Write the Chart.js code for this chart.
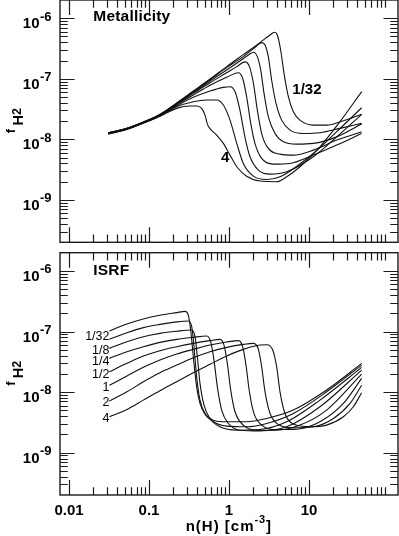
<!DOCTYPE html>
<html>
<head>
<meta charset="utf-8">
<script src="https://cdn.jsdelivr.net/npm/chart.js@4.4.1/dist/chart.umd.min.js"></script>
<style>
  html, body { margin: 0; padding: 0; background: #fff; }
  #wrap { position: relative; width: 399px; height: 536px; overflow: hidden; }
  #met { position: absolute; left: 0; top: 0; }
  #isrf { position: absolute; left: 0; top: 250px; }
</style>
</head>
<body>
<div id="wrap">
  <canvas id="met" width="399" height="250"></canvas>
  <canvas id="isrf" width="399" height="286"></canvas>
</div>
<script>
// axis ranges and tick labels
const nRange = [0.00772, 129.5];
const fRange = [2e-10, 2e-6];
const xMajor = [0.01, 0.1, 1, 10];
const xMajorText = ['0.01', '0.1', '1', '10'];
const yMajor = [1e-9, 1e-8, 1e-7, 1e-6];
const yMajorExp = ['-9', '-8', '-7', '-6'];

// --- top panel: metallicity ---
const metLabels = ['1/32', '1/16', '1/8', '1/4', '1/2', '1', '2', '4'];
const met_1_32_n = [0.031, 0.053, 0.085, 0.137, 0.222, 0.358, 0.579, 0.935, 1.51, 2.44, 3.26, 3.69, 4.02, 4.42, 4.87, 5.52, 6.37, 7.72, 11.3, 16.6, 26.9, 45.5];
const met_1_32_f = [1.29e-8, 1.52e-8, 1.93e-8, 2.59e-8, 3.98e-8, 6.28e-8, 9.92e-8, 1.59e-7, 2.51e-7, 3.96e-7, 5.30e-7, 5.86e-7, 5.30e-7, 2.99e-7, 1.23e-7, 5.07e-8, 2.86e-8, 2.08e-8, 1.72e-8, 1.72e-8, 2.03e-8, 2.59e-8];
const met_1_16_n = [0.031, 0.053, 0.085, 0.137, 0.222, 0.358, 0.579, 0.935, 1.51, 2.22, 2.56, 2.82, 3.10, 3.41, 3.87, 4.55, 5.79, 8.50, 13.7, 24.4, 45.5];
const met_1_16_f = [1.27e-8, 1.52e-8, 1.93e-8, 2.55e-8, 3.93e-8, 6.13e-8, 9.67e-8, 1.53e-7, 2.32e-7, 3.48e-7, 3.96e-7, 3.62e-7, 2.32e-7, 9.55e-8, 3.93e-8, 2.08e-8, 1.42e-8, 1.25e-8, 1.29e-8, 1.52e-8, 1.84e-8];
const met_1_8_n = [0.031, 0.053, 0.085, 0.137, 0.222, 0.358, 0.579, 0.935, 1.37, 1.75, 2.02, 2.26, 2.49, 2.74, 3.10, 3.76, 4.78, 7.01, 11.3, 22.2, 45.5];
const met_1_8_f = [1.27e-8, 1.52e-8, 1.91e-8, 2.52e-8, 3.88e-8, 5.97e-8, 9.20e-8, 1.40e-7, 1.97e-7, 2.47e-7, 2.74e-7, 2.32e-7, 1.40e-7, 5.75e-8, 2.37e-8, 1.25e-8, 9.14e-9, 8.36e-9, 8.58e-9, 1.10e-8, 1.79e-8];
const met_1_4_n = [0.031, 0.053, 0.085, 0.137, 0.222, 0.358, 0.579, 0.935, 1.25, 1.58, 1.80, 2.02, 2.26, 2.56, 3.10, 4.34, 6.37, 11.3, 22.2, 45.5];
const met_1_4_f = [1.25e-8, 1.50e-8, 1.91e-8, 2.52e-8, 3.83e-8, 5.75e-8, 8.63e-8, 1.26e-7, 1.59e-7, 1.90e-7, 1.59e-7, 8.42e-8, 3.05e-8, 1.25e-8, 7.09e-9, 5.71e-9, 5.50e-9, 6.65e-9, 9.74e-9, 1.34e-8];
const met_1_2_n = [0.031, 0.053, 0.085, 0.137, 0.222, 0.358, 0.579, 0.935, 1.31, 1.48, 1.66, 1.87, 2.11, 2.56, 3.58, 5.79, 11.3, 22.2, 45.5];
const met_1_2_f = [1.25e-8, 1.50e-8, 1.88e-8, 2.49e-8, 3.74e-8, 5.40e-8, 7.80e-8, 1.06e-7, 1.26e-7, 1.02e-7, 5.07e-8, 1.84e-8, 8.58e-9, 4.85e-9, 3.91e-9, 4.01e-9, 5.50e-9, 8.05e-9, 1.25e-8];
const met_1_n = [0.031, 0.053, 0.085, 0.137, 0.222, 0.358, 0.579, 0.850, 1.03, 1.19, 1.37, 1.58, 1.83, 2.33, 3.26, 5.26, 11.3, 22.2, 45.5];
const met_1_f = [1.24e-8, 1.48e-8, 1.88e-8, 2.46e-8, 3.60e-8, 4.94e-8, 6.28e-8, 7.23e-8, 7.41e-8, 6.13e-8, 3.05e-8, 1.10e-8, 5.16e-9, 3.11e-9, 2.67e-9, 2.92e-9, 5.16e-9, 1.10e-8, 2.59e-8];
const met_2_n = [0.031, 0.053, 0.085, 0.137, 0.222, 0.358, 0.526, 0.701, 0.850, 1.03, 1.25, 1.51, 2.02, 2.96, 4.34, 11.3, 22.2, 45.5];
const met_2_f = [1.24e-8, 1.48e-8, 1.86e-8, 2.43e-8, 3.46e-8, 4.19e-8, 4.46e-8, 4.46e-8, 3.69e-8, 2.08e-8, 8.58e-9, 4.01e-9, 2.47e-9, 2.18e-9, 2.41e-9, 5.86e-9, 1.34e-8, 3.33e-8];
const met_4_n = [0.031, 0.053, 0.085, 0.137, 0.222, 0.326, 0.394, 0.455, 0.501, 0.536, 0.590, 0.701, 0.850, 1.03, 1.25, 1.66, 2.44, 3.94, 5.26, 7.72, 13.7, 24.4, 45.5];
const met_4_f = [1.22e-8, 1.46e-8, 1.84e-8, 2.40e-8, 3.25e-8, 3.55e-8, 3.55e-8, 3.25e-8, 2.52e-8, 1.79e-8, 1.46e-8, 1.18e-8, 8.58e-9, 5.50e-9, 3.53e-9, 2.47e-9, 2.05e-9, 2.00e-9, 2.41e-9, 3.53e-9, 7.55e-9, 1.96e-8, 6.13e-8];

// --- bottom panel: ISRF ---
const isrfLabels = ['1/32', '1/16', '1/8', '1/4', '1/2', '1', '2', '4'];
const isrf_1_32_n = [0.032, 0.053, 0.085, 0.137, 0.222, 0.282, 0.310, 0.332, 0.358, 0.394, 0.434, 0.501, 0.637, 0.935, 1.66, 2.96, 6.37, 16.6, 45.5];
const isrf_1_32_f = [1.02e-7, 1.33e-7, 1.61e-7, 1.85e-7, 2.05e-7, 2.15e-7, 1.87e-7, 1.06e-7, 3.84e-8, 1.22e-8, 6.50e-9, 4.33e-9, 3.44e-9, 3.23e-9, 3.23e-9, 3.67e-9, 5.04e-9, 1.08e-8, 2.98e-8];
const isrf_1_16_n = [0.032, 0.053, 0.085, 0.137, 0.222, 0.310, 0.342, 0.365, 0.394, 0.434, 0.501, 0.637, 0.935, 1.66, 2.96, 6.37, 16.6, 45.5];
const isrf_1_16_f = [7.42e-8, 9.56e-8, 1.16e-7, 1.31e-7, 1.44e-7, 1.49e-7, 1.20e-7, 5.61e-8, 1.79e-8, 7.37e-9, 4.44e-9, 3.23e-9, 2.74e-9, 2.67e-9, 3.03e-9, 4.44e-9, 1.01e-8, 2.79e-8];
const isrf_1_8_n = [0.032, 0.053, 0.085, 0.137, 0.222, 0.342, 0.376, 0.402, 0.434, 0.487, 0.579, 0.772, 1.25, 2.44, 5.26, 13.7, 45.5];
const isrf_1_8_f = [5.27e-8, 6.79e-8, 8.21e-8, 9.32e-8, 1.01e-7, 1.06e-7, 8.21e-8, 3.84e-8, 1.39e-8, 6.10e-9, 3.67e-9, 2.67e-9, 2.35e-9, 2.41e-9, 3.23e-9, 7.37e-9, 2.56e-8];
const isrf_1_4_n = [0.032, 0.053, 0.085, 0.137, 0.222, 0.358, 0.526, 0.590, 0.649, 0.715, 0.810, 0.981, 1.37, 2.44, 5.26, 13.7, 45.5];
const isrf_1_4_f = [3.60e-8, 4.64e-8, 5.61e-8, 6.62e-8, 7.42e-8, 8.01e-8, 8.42e-8, 6.79e-8, 3.38e-8, 1.22e-8, 5.04e-9, 3.03e-9, 2.35e-9, 2.29e-9, 2.67e-9, 5.72e-9, 2.31e-8];
const isrf_1_2_n = [0.032, 0.053, 0.085, 0.137, 0.222, 0.358, 0.579, 0.772, 0.866, 0.953, 1.05, 1.19, 1.51, 2.22, 3.94, 7.72, 16.6, 45.5];
const isrf_1_2_f = [2.17e-8, 2.98e-8, 3.93e-8, 4.82e-8, 5.61e-8, 6.37e-8, 7.06e-8, 7.42e-8, 5.98e-8, 2.98e-8, 1.08e-8, 4.73e-9, 2.85e-9, 2.35e-9, 2.35e-9, 2.85e-9, 5.04e-9, 1.98e-8];
const isrf_1_n = [0.032, 0.053, 0.085, 0.137, 0.222, 0.358, 0.579, 0.935, 1.31, 1.48, 1.63, 1.80, 2.05, 2.56, 3.94, 7.01, 13.7, 26.9, 45.5];
const isrf_1_f = [1.30e-8, 1.84e-8, 2.56e-8, 3.38e-8, 4.25e-8, 5.07e-8, 5.98e-8, 6.71e-8, 7.06e-8, 5.61e-8, 2.79e-8, 1.01e-8, 4.44e-9, 2.85e-9, 2.41e-9, 2.44e-9, 3.23e-9, 6.50e-9, 1.68e-8];
const isrf_2_n = [0.032, 0.053, 0.085, 0.137, 0.222, 0.358, 0.579, 0.935, 1.51, 2.02, 2.33, 2.56, 2.82, 3.26, 4.14, 6.37, 11.3, 20.2, 32.6, 45.5];
const isrf_2_f = [7.10e-9, 1.01e-8, 1.48e-8, 2.09e-8, 2.79e-8, 3.69e-8, 4.64e-8, 5.47e-8, 6.13e-8, 6.37e-8, 5.07e-8, 2.62e-8, 1.01e-8, 4.44e-9, 2.92e-9, 2.57e-9, 2.67e-9, 3.67e-9, 6.50e-9, 1.30e-8];
const isrf_4_n = [0.032, 0.053, 0.085, 0.137, 0.222, 0.358, 0.579, 0.935, 1.51, 2.44, 2.96, 3.52, 3.94, 4.34, 5.01, 6.37, 10.3, 16.6, 26.9, 35.8, 45.5];
const isrf_4_f = [3.91e-9, 5.17e-9, 7.37e-9, 1.05e-8, 1.48e-8, 2.09e-8, 2.87e-8, 3.93e-8, 5.07e-8, 5.98e-8, 6.06e-8, 4.94e-8, 2.62e-8, 1.01e-8, 4.44e-9, 2.96e-9, 2.67e-9, 2.85e-9, 3.91e-9, 5.72e-9, 9.75e-9];

const metCurves = [[met_1_32_n, met_1_32_f], [met_1_16_n, met_1_16_f], [met_1_8_n, met_1_8_f], [met_1_4_n, met_1_4_f],
                   [met_1_2_n, met_1_2_f], [met_1_n, met_1_f], [met_2_n, met_2_f], [met_4_n, met_4_f]];
const isrfCurves = [[isrf_1_32_n, isrf_1_32_f], [isrf_1_16_n, isrf_1_16_f], [isrf_1_8_n, isrf_1_8_f], [isrf_1_4_n, isrf_1_4_f],
                    [isrf_1_2_n, isrf_1_2_f], [isrf_1_n, isrf_1_f], [isrf_2_n, isrf_2_f], [isrf_4_n, isrf_4_f]];

const BOLD = 'bold {s}px "Liberation Sans", Arial, sans-serif';
function bold(s) { return BOLD.replace('{s}', s); }

// minor tick positions, 2..9 in each decade
function minorTicks(decades, lo, hi) {
    let out = [];
    decades.forEach(function(d) {
        for (let k = 2; k <= 9; k++) {
            let v = k * d;
            if (v > lo * 1.001 && v < hi * 0.999) out.push(v);
        }
    });
    return out;
}
const xMinor = minorTicks([0.01, 0.1, 1, 10], nRange[0], nRange[1]);
const yMinor = minorTicks([1e-10, 1e-9, 1e-8, 1e-7, 1e-6], fRange[0], fRange[1]);

function drawTextRuns(ctx, runs, x) {
    // runs: [text, fontSize, baselineY, spacing]
    runs.forEach(function(r) {
        ctx.font = bold(r[1]);
        ctx.letterSpacing = (r[3] || 0) + 'px';
        ctx.fillText(r[0], x, r[2]);
        x += ctx.measureText(r[0]).width;
    });
    ctx.letterSpacing = '0px';
    return x;
}

function runsWidth(ctx, runs) {
    let w = 0;
    runs.forEach(function(r) {
        ctx.font = bold(r[1]);
        ctx.letterSpacing = (r[3] || 0) + 'px';
        w += ctx.measureText(r[0]).width;
    });
    ctx.letterSpacing = '0px';
    return w;
}

function makePlugin(panel) {
    return {
        id: 'frame_' + panel.name,
        afterDatasetsDraw(chart) {
            const ctx = chart.ctx;
            const a = chart.chartArea;
            const xs = chart.scales.x, ys = chart.scales.y;
            const off = panel.offset;
            ctx.save();
            ctx.strokeStyle = '#1c1c1c';
            ctx.lineWidth = 1.2;
            ctx.beginPath();
            xMajor.concat(xMinor).forEach(function(v) {
                const px = Math.round(xs.getPixelForValue(v)) + 0.5;
                const len = xMajor.includes(v) ? 15 : 7.7;
                ctx.moveTo(px, a.bottom); ctx.lineTo(px, a.bottom - len);
                ctx.moveTo(px, a.top); ctx.lineTo(px, a.top + len);
            });
            yMajor.concat(yMinor).forEach(function(v) {
                const py = Math.round(ys.getPixelForValue(v)) + 0.5;
                const len = yMajor.includes(v) ? 14.5 : 7.8;
                ctx.moveTo(a.left, py); ctx.lineTo(a.left + len, py);
                ctx.moveTo(a.right, py); ctx.lineTo(a.right - len, py);
            });
            ctx.stroke();
            ctx.lineWidth = 1.4;
            ctx.strokeRect(a.left, a.top, a.right - a.left, a.bottom - a.top);

            ctx.fillStyle = '#000';
            // y tick labels 10^n
            yMajor.forEach(function(v, i) {
                const py = ys.getPixelForValue(v);
                ctx.font = bold(15);
                ctx.textAlign = 'right';
                ctx.fillText('10', 39.5, py + 10);
                ctx.textAlign = 'left';
                ctx.font = bold(13);
                ctx.fillText(yMajorExp[i], 40, py + 2.4);
            });
            ctx.textAlign = 'left';

            // y title f_H2, rotated
            const cy = (a.top + a.bottom) / 2 + 12;
            ctx.save();
            ctx.translate(0, cy);
            ctx.rotate(-Math.PI / 2);
            ctx.font = bold(12.5);
            ctx.fillText('f', 0, 15);
            let w = ctx.measureText('f').width + 3.5;
            ctx.font = bold(14.5);
            ctx.fillText('H', w, 23.3);
            w += ctx.measureText('H').width;
            ctx.font = bold(12.5);
            ctx.fillText('2', w, 21);
            ctx.restore();

            // panel title
            ctx.font = bold(15.5);
            ctx.letterSpacing = '0.2px';
            ctx.fillText(panel.title, 93.3, panel.titleY - off);
            ctx.letterSpacing = '0px';

            // curve labels
            panel.notes.forEach(function(t) {
                ctx.font = t.bold ? bold(t.size) : t.size + 'px "Liberation Sans", Arial, sans-serif';
                ctx.textAlign = t.align || 'left';
                ctx.fillText(t.text, t.x, t.y - off);
            });
            ctx.textAlign = 'left';

            if (panel.xLabels) {
                ctx.font = bold(15);
                ctx.textAlign = 'center';
                xMajor.forEach(function(v, i) {
                    ctx.fillText(xMajorText[i], xs.getPixelForValue(v), 515 - off);
                });
                ctx.textAlign = 'left';
                const runs = [['n(H) [cm', 15, 531 - off, 1], ['-3', 11, 523.3 - off, 0.8], [']', 15, 531 - off, 0]];
                const tw = runsWidth(ctx, runs);
                drawTextRuns(ctx, runs, 228.3 - tw / 2);
            }
            ctx.restore();
        }
    };
}

function buildChart(id, curves, panel, pad) {
    const datasets = curves.map(function(c, i) {
        return {
            label: panel.labels[i],
            data: c[0].map(function(n, j) { return {x: n, y: c[1][j]}; }),
            borderColor: '#111',
            borderWidth: 1.1,
            pointRadius: 0,
            fill: false,
            cubicInterpolationMode: 'monotone'
        };
    });
    return new Chart(document.getElementById(id).getContext('2d'), {
        type: 'line',
        data: {datasets: datasets},
        options: {
            responsive: false,
            animation: false,
            events: [],
            layout: {padding: pad},
            plugins: {legend: {display: false}, tooltip: {enabled: false}},
            scales: {
                x: {type: 'logarithmic', min: nRange[0], max: nRange[1], display: false},
                y: {type: 'logarithmic', min: fRange[0], max: fRange[1], display: false}
            }
        },
        plugins: [makePlugin(panel)]
    });
}

buildChart('met', metCurves, {
    name: 'met', offset: 0, labels: metLabels, title: 'Metallicity', titleY: 21, xLabels: false,
    notes: [
        {text: '1/32', x: 292.3, y: 94.3, size: 15, bold: true},
        {text: '4', x: 221, y: 161.7, size: 15, bold: true}
    ]
}, {left: 60, right: 1, top: 0, bottom: 7.7});

buildChart('isrf', isrfCurves, {
    name: 'isrf', offset: 250, labels: isrfLabels, title: 'ISRF', titleY: 275, xLabels: true,
    notes: [
        {text: '1/32', x: 109.5, y: 339.5, size: 12.5, align: 'right'},
        {text: '1/8', x: 109.5, y: 353.5, size: 12.5, align: 'right'},
        {text: '1/4', x: 109.5, y: 365, size: 12.5, align: 'right'},
        {text: '1/2', x: 109.5, y: 377.5, size: 12.5, align: 'right'},
        {text: '1', x: 109.5, y: 390.7, size: 12.5, align: 'right'},
        {text: '2', x: 109.5, y: 406, size: 12.5, align: 'right'},
        {text: '4', x: 109.5, y: 421.7, size: 12.5, align: 'right'}
    ]
}, {left: 60, right: 1, top: 2.7, bottom: 41});
</script>
</body>
</html>
